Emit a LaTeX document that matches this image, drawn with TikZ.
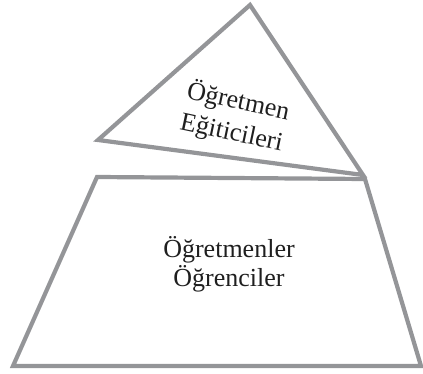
\documentclass[tikz,border=0pt]{standalone}
\usepackage{fontspec}
\setmainfont{Liberation Serif}
\usepackage{xcolor}
\definecolor{edgegray}{RGB}{148,149,152}

\begin{document}
\begin{tikzpicture}[
  x=1pt,y=-1pt,
  level/.style={draw=edgegray,line width=4.2pt,line join=miter},
  levellabel/.style={
    font=\fontsize{26}{29}\selectfont,text=black!88,align=center,inner sep=0pt
  }
]
  \useasboundingbox (0,0) rectangle (423,374);

  % upper level, tilted
  \coordinate (tTop) at (250,5);
  \coordinate (tLeft) at (98,140);
  \coordinate (tRight) at (363,175);
  \draw[level] (tTop)--(tRight)--(tLeft)--cycle;

  % lower level
  \coordinate (bTopL) at (97,177);
  \coordinate (bTopR) at (365,179);
  \coordinate (bBotR) at (421,366);
  \coordinate (bBotL) at (13,366);
  \draw[level] (bTopL)--(bTopR)--(bBotR)--(bBotL)--cycle;

  \node[levellabel,rotate=-12,font=\fontsize{26}{32}\selectfont]
    (educators) at (235,117) {Öğretmen\\Eğiticileri};
  \node[levellabel] (teachers) at (229,264)
    {Öğretmenler\\Öğrenciler};
\end{tikzpicture}
\end{document}
